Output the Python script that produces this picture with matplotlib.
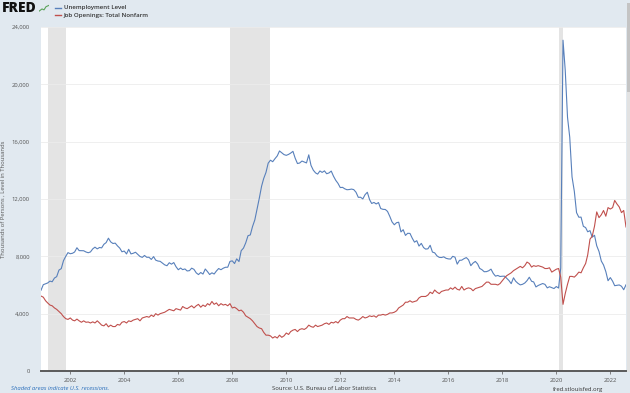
import numpy as np
import pandas as pd
import matplotlib
matplotlib.use('Agg')
import matplotlib.pyplot as plt
import matplotlib.dates as mdates

# monthly values, thousands, Dec 2000 .. Aug 2022
unemployment = [5634,
    6023, 6089, 6141, 6271, 6226, 6484, 6583, 7042, 7142, 7694, 8003, 8258,
    8182, 8215, 8304, 8599, 8399, 8393, 8390, 8304, 8251, 8307, 8520, 8640,
    8520, 8618, 8588, 8842, 8957, 9266, 9011, 8896, 8921, 8732, 8576, 8317,
    8370, 8167, 8491, 8170, 8212, 8286, 8136, 7990, 7927, 8061, 7932, 7934,
    7784, 7980, 7737, 7672, 7651, 7524, 7406, 7345, 7553, 7453, 7566, 7279,
    7064, 7184, 7072, 7120, 6980, 7001, 7175, 7091, 6847, 6727, 6872, 6762,
    7116, 6927, 6731, 6850, 6766, 6979, 7149, 7067, 7170, 7237, 7240, 7645,
    7685, 7497, 7822, 7637, 8395, 8575, 8937, 9438, 9494, 10074, 10538, 11286,
    12058, 12898, 13426, 13853, 14499, 14707, 14601, 14814, 15009, 15352, 15219, 15098,
    15046, 15113, 15202, 15325, 14849, 14474, 14512, 14648, 14579, 14516, 15081, 14348,
    14013, 13820, 13737, 13957, 13855, 13962, 13763, 13818, 13948, 13594, 13302, 13093,
    12797, 12813, 12713, 12646, 12660, 12692, 12656, 12471, 12115, 12124, 12005, 12298,
    12471, 11950, 11689, 11760, 11654, 11751, 11335, 11279, 11270, 11136, 10787, 10404,
    10202, 10349, 10380, 9702, 9859, 9460, 9608, 9599, 9262, 8990, 9090, 8717,
    8903, 8610, 8504, 8526, 8771, 8297, 8245, 8032, 7929, 7917, 7966, 7865,
    7822, 7810, 8000, 7942, 7456, 7723, 7733, 7837, 7913, 7758, 7349, 7530,
    7646, 7468, 7159, 7065, 6926, 6933, 6993, 7107, 6803, 6617, 6666, 6593,
    6612, 6615, 6469, 6309, 6095, 6502, 6261, 6113, 6009, 6048, 6139, 6303,
    6542, 6259, 6214, 5865, 5967, 6038, 6103, 6043, 5799, 5879, 5811, 5753,
    5892, 5787, 7185, 23078, 20985, 17697, 16308, 13542, 12535, 11049, 10728, 10736,
    10096, 10004, 9712, 9794, 9338, 9469, 8738, 8336, 7672, 7398, 6936, 6299,
    6516, 6265, 5952, 5975, 6004, 5913, 5670, 6014]

job_openings = [5230,
    5150, 4900, 4750, 4600, 4550, 4400, 4300, 4150, 4000, 3800, 3650, 3600,
    3700, 3550, 3500, 3620, 3500, 3400, 3500, 3400, 3420, 3350, 3430, 3350,
    3500, 3350, 3200, 3150, 3300, 3080, 3200, 3100, 3100, 3250, 3200, 3400,
    3450, 3350, 3500, 3450, 3550, 3600, 3650, 3500, 3700, 3750, 3800, 3750,
    3900, 3800, 4000, 3900, 4000, 4050, 4100, 4200, 4300, 4250, 4200, 4350,
    4300, 4250, 4500, 4400, 4350, 4450, 4550, 4400, 4550, 4650, 4450, 4600,
    4500, 4700, 4600, 4850, 4650, 4750, 4550, 4700, 4600, 4650, 4550, 4700,
    4400, 4450, 4350, 4200, 4250, 4100, 3850, 3750, 3650, 3500, 3300, 3100,
    3000, 2950, 2700, 2500, 2500, 2450, 2300, 2400, 2300, 2500, 2350, 2450,
    2650, 2550, 2750, 2850, 2900, 2750, 2900, 2950, 2900, 3000, 3200, 3100,
    3050, 3200, 3100, 3150, 3200, 3300, 3350, 3250, 3400, 3350, 3450, 3350,
    3550, 3650, 3650, 3800, 3700, 3700, 3700, 3600, 3550, 3650, 3800, 3700,
    3750, 3850, 3800, 3850, 3750, 3900, 3900, 3950, 3900, 3950, 4050, 4050,
    4100, 4200, 4400, 4500, 4600, 4800, 4800, 4900, 4800, 4850, 4900, 5100,
    5200, 5200, 5200, 5300, 5500, 5400, 5650, 5500, 5400, 5550, 5600, 5650,
    5650, 5800, 5700, 5850, 5700, 5650, 5900, 5650, 5750, 5800, 5750, 5600,
    5750, 5800, 5850, 5900, 6050, 6200, 6200, 6050, 6050, 6050, 6000, 6100,
    6300, 6500, 6650, 6750, 6850, 7000, 7100, 7200, 7300, 7200, 7350, 7600,
    7500, 7250, 7350, 7300, 7350, 7300, 7250, 7150, 7150, 7200, 6900, 7000,
    7100, 7150, 6550, 4650, 5400, 6050, 6600, 6600, 6550, 6700, 6900, 6850,
    7200, 7500, 8100, 9200, 9400, 10100, 11100, 10700, 10900, 11200, 10800, 11400,
    11300, 11400, 11900, 11650, 11450, 11050, 11200, 10050]

recessions = [('2001-03-01', '2001-11-01'),
              ('2007-12-01', '2009-06-01'),
              ('2020-02-01', '2020-04-01')]

y_ticks = [0, 4000, 8000, 12000, 16000, 20000, 24000]

dates = pd.date_range('2000-12-01', periods=len(unemployment), freq='MS')

BG = '#e1e9f0'
BLUE = '#5880bb'
RED = '#c0504d'

plt.rcParams['font.family'] = ['Open Sans', 'DejaVu Sans']

fig = plt.figure(figsize=(6.3, 3.93), dpi=100)
fig.patch.set_facecolor(BG)
ax = fig.add_axes([41 / 630, 22 / 393, 585 / 630, 344 / 393])
ax.set_facecolor('white')

for start, end in recessions:
    ax.axvspan(pd.Timestamp(start), pd.Timestamp(end), color='#e4e4e4', lw=0, zorder=0)

ax.plot(dates, unemployment, color=BLUE, lw=0.8, zorder=3)
ax.plot(dates, job_openings, color=RED, lw=0.8, zorder=3)

ax.set_xlim(pd.Timestamp('2000-12-01'), pd.Timestamp('2022-08-01'))
ax.set_ylim(0, 24000)
ax.set_yticks(y_ticks)
ax.set_yticklabels([f'{v:,}' for v in y_ticks])
ax.yaxis.grid(True, color='#ececec', lw=0.6, zorder=1)
ax.set_axisbelow(True)

ax.xaxis.set_major_locator(mdates.YearLocator(2))
ax.xaxis.set_major_formatter(mdates.DateFormatter('%Y'))
ax.tick_params(axis='x', labelsize=4.2, colors='#555555', length=2, width=0.5, pad=3)
ax.tick_params(axis='y', labelsize=4.2, colors='#555555', length=0, pad=8)
for s in ['top', 'right', 'left']:
    ax.spines[s].set_visible(False)
ax.spines['bottom'].set_color('#5a5a5a')
ax.spines['bottom'].set_linewidth(1.4)

ax.set_ylabel('Thousands of Persons , Level in Thousands', fontsize=4.2, color='#555555', labelpad=4)

# header: logo, little chart icon, legend
fig.text(2 / 630, 1 - 8.5 / 393, 'FRED', fontsize=10, fontweight='heavy', color='#111111',
         va='center', ha='left')
icon = fig.add_axes([39 / 630, 1 - 13 / 393, 10 / 630, 9 / 393])
icon.set_facecolor('#d6e4ee')
icon.plot([0, 0.3, 0.5, 0.7, 1], [0.2, 0.45, 0.35, 0.7, 0.85], color='#5aa35a', lw=0.8)
icon.set_xlim(0, 1)
icon.set_ylim(0, 1)
icon.axis('off')
fig.lines.append(plt.Line2D([55 / 630, 61 / 630], [1 - 7.5 / 393] * 2, color=BLUE, lw=1,
                            transform=fig.transFigure))
fig.lines.append(plt.Line2D([55 / 630, 61 / 630], [1 - 15 / 393] * 2, color=RED, lw=1,
                            transform=fig.transFigure))
fig.text(64 / 630, 1 - 7.5 / 393, 'Unemployment Level', fontsize=4.4, color='#333333',
         fontweight='semibold', va='center')
fig.text(64 / 630, 1 - 15 / 393, 'Job Openings: Total Nonfarm', fontsize=4.4, color='#333333',
         fontweight='semibold', va='center')

# scrollbar on the right: track and thumb
fig.patches.append(plt.Rectangle((627 / 630, 1 - 372 / 393), 3 / 630, 369 / 393,
                                 transform=fig.transFigure, color='#e2e2e2', lw=0))
fig.patches.append(plt.Rectangle((627 / 630, 1 - 92 / 393), 3 / 630, 89 / 393,
                                 transform=fig.transFigure, color='#c4c4c4', lw=0))

# footer
fig.text(11 / 630, 1 - 389 / 393, 'Shaded areas indicate U.S. recessions.', fontsize=4.2,
         style='italic', color='#2a6ebb', va='center')
fig.text(272 / 630, 1 - 389 / 393, 'Source: U.S. Bureau of Labor Statistics', fontsize=4.2,
         color='#333333', va='center')
fig.text(553 / 630, 1 - 389 / 393, 'fred.stlouisfed.org', fontsize=4.2, color='#333333', va='center')

fig.savefig('out.png', dpi=100, facecolor=fig.get_facecolor())
